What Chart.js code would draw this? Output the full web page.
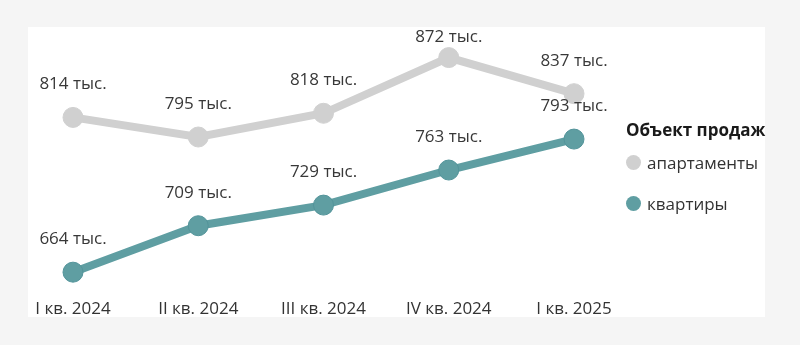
<!DOCTYPE html>
<html lang="ru">
<head>
<meta charset="utf-8">
<script src="https://cdn.jsdelivr.net/npm/chart.js@4.4.1/dist/chart.umd.min.js"></script>
<style>
  html, body { margin: 0; padding: 0; background: #f5f5f5; }
  #wrap { position: relative; width: 800px; height: 345px; }
  #panel { position: absolute; left: 28px; top: 27px; width: 737px; height: 290px; background: #fff; }
  #chart { position: absolute; left: 0; top: 0; }
  #legend { position: absolute; left: 626px; top: 118px; font-family: "Open Sans", sans-serif; }
  #legend .title { font-weight: bold; font-size: 17px; line-height: 24px; color: #1a1a1a; margin-bottom: 8px; }
  #legend .item { display: flex; align-items: center; height: 24px; margin-bottom: 17px; font-size: 17px; color: #333; }
  #legend .dot { width: 15px; height: 15px; border-radius: 50%; margin-right: 6px; }
</style>
</head>
<body>
<div id="wrap">
  <div id="panel"></div>
  <canvas id="chart" width="800" height="345"></canvas>
  <div id="legend"></div>
</div>
<script>
// Data
const quarters = ['I кв. 2024', 'II кв. 2024', 'III кв. 2024', 'IV кв. 2024', 'I кв. 2025'];
const apartments = [814, 795, 818, 872, 837];
const flats = [664, 709, 729, 763, 793];
const seriesNames = ['апартаменты', 'квартиры'];
const legendTitle = 'Объект продаж';

const greyColor = '#d0d0d0';
const tealColor = '#5f9ea2';

// Value labels above points, e.g. "814 тыс."
const valueLabels = {
  id: 'valueLabels',
  afterDatasetsDraw(chart) {
    const ctx = chart.ctx;
    const top = chart.chartArea.top;
    ctx.save();
    ctx.font = '17px "Open Sans", sans-serif';
    ctx.fillStyle = '#383838';
    ctx.textAlign = 'center';
    ctx.textBaseline = 'middle';
    chart.data.datasets.forEach((ds, i) => {
      chart.getDatasetMeta(i).data.forEach((pt, j) => {
        const y = Math.max(pt.y - 33, top - 2);
        ctx.fillText(ds.data[j] + ' тыс.', pt.x, y);
      });
    });
    ctx.restore();
  }
};

const chart = new Chart(document.getElementById('chart'), {
  type: 'line',
  data: {
    labels: quarters,
    datasets: [
      {
        label: seriesNames[0],
        data: apartments,
        borderColor: greyColor,
        backgroundColor: greyColor,
        pointBackgroundColor: greyColor,
        pointBorderColor: greyColor,
        borderWidth: 8,
        pointRadius: 10,
        pointBorderWidth: 1
      },
      {
        label: seriesNames[1],
        data: flats,
        borderColor: tealColor,
        backgroundColor: tealColor,
        pointBackgroundColor: tealColor,
        pointBorderColor: '#53949a',
        borderWidth: 8,
        pointRadius: 10,
        pointBorderWidth: 1
      }
    ]
  },
  options: {
    responsive: false,
    animation: false,
    layout: {
      padding: { left: 73, right: 226, top: 39, bottom: 22 }
    },
    scales: {
      x: {
        offset: false,
        grid: { display: false },
        border: { display: false },
        ticks: {
          autoSkip: false,
          maxRotation: 0,
          padding: 4,
          color: '#333',
          font: { family: '"Open Sans", sans-serif', size: 17 }
        }
      },
      y: {
        display: false,
        min: 650,
        max: 890
      }
    },
    plugins: {
      legend: { display: false },
      tooltip: { enabled: false }
    }
  },
  plugins: [valueLabels]
});

// HTML legend built from the chart's own legend items
const legendEl = document.getElementById('legend');
let html = '<div class="title">' + legendTitle + '</div>';
chart.options.plugins.legend.labels.generateLabels(chart).forEach(item => {
  html += '<div class="item"><span class="dot" style="background:' + item.fillStyle + '"></span>' + item.text + '</div>';
});
legendEl.innerHTML = html;
</script>
</body>
</html>
